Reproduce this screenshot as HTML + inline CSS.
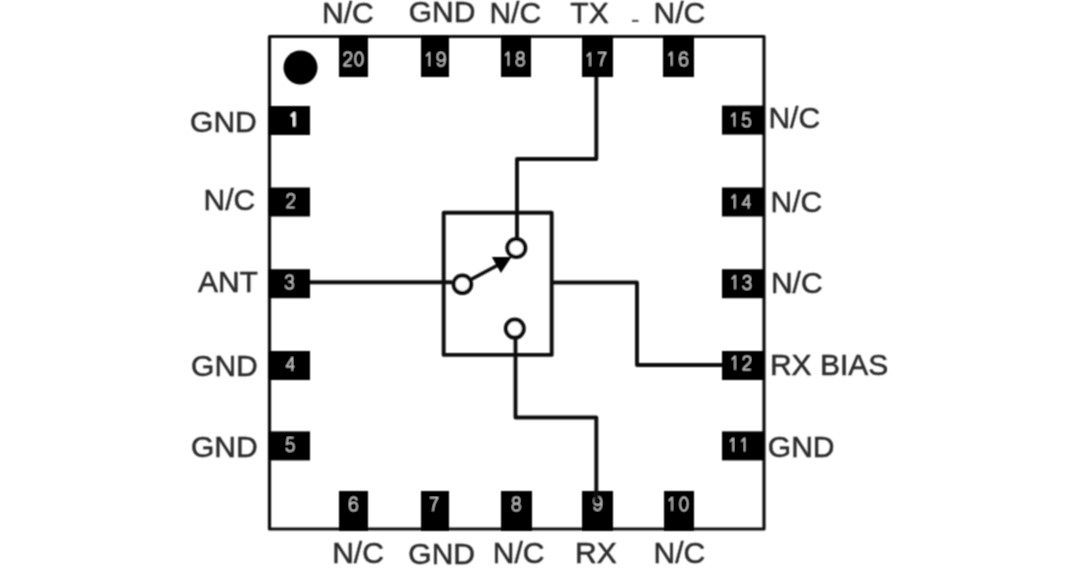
<!DOCTYPE html>
<html><head><meta charset="utf-8"><style>
html,body{margin:0;padding:0;background:#fff;width:1080px;height:568px;overflow:hidden}
svg{display:block}
.l{font-family:"Liberation Sans",sans-serif;font-size:30px;fill:#2a2a2a;stroke:#2a2a2a;stroke-width:0.5px}
.d{font-family:"Liberation Sans",sans-serif;font-size:22px;letter-spacing:0.6px;fill:#c4c4c4;text-anchor:middle}
</style></head><body>
<svg width="1080" height="568" viewBox="0 0 1080 568">
<defs><filter id="bl" x="-5%" y="-5%" width="110%" height="110%"><feConvolveMatrix order="3" kernelMatrix="1 2 1 2 4 2 1 2 1" divisor="16" edgeMode="none"/></filter></defs>
<g filter="url(#bl)" stroke-linejoin="round">
<rect x="269.5" y="36.5" width="494.5" height="492.5" fill="none" stroke="#111" stroke-width="3.2"/>
<circle cx="300.5" cy="67.5" r="17" fill="#000"/>
<rect x="339" y="36" width="29" height="41" fill="#000"/>
<rect x="421" y="36" width="28" height="41" fill="#000"/>
<rect x="501" y="36" width="30" height="41" fill="#000"/>
<rect x="582" y="36" width="31" height="41" fill="#000"/>
<rect x="663" y="36" width="31" height="41" fill="#000"/>
<rect x="339" y="491" width="29" height="40" fill="#000"/>
<rect x="421" y="491" width="28" height="40" fill="#000"/>
<rect x="501" y="491" width="31" height="40" fill="#000"/>
<rect x="582" y="491" width="31" height="40" fill="#000"/>
<rect x="664" y="491" width="30" height="40" fill="#000"/>
<rect x="269" y="106" width="41" height="29" fill="#000"/>
<rect x="269" y="187.5" width="41" height="29" fill="#000"/>
<rect x="269" y="269.2" width="41" height="29" fill="#000"/>
<rect x="269" y="351" width="41" height="29" fill="#000"/>
<rect x="269" y="431.4" width="41" height="29" fill="#000"/>
<rect x="722" y="105.6" width="42" height="29" fill="#000"/>
<rect x="722" y="187.5" width="42" height="29" fill="#000"/>
<rect x="722" y="269.2" width="42" height="29" fill="#000"/>
<rect x="722" y="351" width="42" height="29" fill="#000"/>
<rect x="722" y="431.4" width="42" height="29" fill="#000"/>
<g transform="translate(343.88,52.19)" fill="none" stroke="#c4c4c4" stroke-width="1.5" stroke-linecap="butt"><g transform="translate(0,0) scale(0.92,0.945)"><path d="M0.3,3.9 C0.5,1.3 2.2,0 4.2,0 C6.5,0 8.1,1.6 8.1,3.9 C8.1,6 6.8,7.4 4.6,9.2 C2.3,11 0.6,12.5 0.2,14.3 L8.3,14.3" vector-effect="non-scaling-stroke"/></g><g transform="translate(11.3,0) scale(0.92,0.945)"><ellipse cx="4.15" cy="7.15" rx="4.15" ry="7.15" vector-effect="non-scaling-stroke"/></g></g>
<g transform="translate(426.13,52.59)" fill="none" stroke="#c4c4c4" stroke-width="1.5" stroke-linecap="butt"><g transform="translate(0,0) scale(0.92,0.945)"><path d="M0.3,3.6 L3.6,0.2 L3.6,14.3" vector-effect="non-scaling-stroke"/></g><g transform="translate(11.3,0) scale(0.92,0.945)"><path transform="rotate(180 4.15 7.15)" d="M8,3.3 C7.6,1.2 6.2,0 4.4,0 C1.6,0 0.1,2.8 0.1,7.6 C0.1,12 1.7,14.3 4.3,14.3 C6.7,14.3 8.3,12.4 8.3,9.8 C8.3,7.3 6.7,5.5 4.4,5.5 C2.2,5.5 0.6,7 0.2,8.9" vector-effect="non-scaling-stroke"/></g></g>
<g transform="translate(505.18,52.19)" fill="none" stroke="#c4c4c4" stroke-width="1.5" stroke-linecap="butt"><g transform="translate(0,0) scale(0.92,0.945)"><path d="M0.3,3.6 L3.6,0.2 L3.6,14.3" vector-effect="non-scaling-stroke"/></g><g transform="translate(11.3,0) scale(0.92,0.945)"><ellipse cx="4.15" cy="3.45" rx="3.55" ry="3.45" vector-effect="non-scaling-stroke"/><ellipse cx="4.15" cy="10.45" rx="4.15" ry="3.85" vector-effect="non-scaling-stroke"/></g></g>
<g transform="translate(586.78,52.74)" fill="none" stroke="#c4c4c4" stroke-width="1.5" stroke-linecap="butt"><g transform="translate(0,0) scale(0.92,0.945)"><path d="M0.3,3.6 L3.6,0.2 L3.6,14.3" vector-effect="non-scaling-stroke"/></g><g transform="translate(11.3,0) scale(0.92,0.945)"><path d="M0,0 L8.3,0 C5.6,3.6 3.6,8.5 3.1,14.3" vector-effect="non-scaling-stroke"/></g></g>
<g transform="translate(668.38,52.19)" fill="none" stroke="#c4c4c4" stroke-width="1.5" stroke-linecap="butt"><g transform="translate(0,0) scale(0.92,0.945)"><path d="M0.3,3.6 L3.6,0.2 L3.6,14.3" vector-effect="non-scaling-stroke"/></g><g transform="translate(11.3,0) scale(0.92,0.945)"><path d="M8,3.3 C7.6,1.2 6.2,0 4.4,0 C1.6,0 0.1,2.8 0.1,7.6 C0.1,12 1.7,14.3 4.3,14.3 C6.7,14.3 8.3,12.4 8.3,9.8 C8.3,7.3 6.7,5.5 4.4,5.5 C2.2,5.5 0.6,7 0.2,8.9" vector-effect="non-scaling-stroke"/></g></g>
<g transform="translate(290.96,112.89)" fill="none" stroke="#f2f2f2" stroke-width="2.6" stroke-linecap="butt"><g transform="translate(0,0) scale(0.92,0.945)"><path d="M0.3,3.6 L3.6,0.2 L3.6,14.3" vector-effect="non-scaling-stroke"/></g></g>
<g transform="translate(286.88,194.04)" fill="none" stroke="#c4c4c4" stroke-width="1.5" stroke-linecap="butt"><g transform="translate(0,0) scale(0.92,0.945)"><path d="M0.3,3.9 C0.5,1.3 2.2,0 4.2,0 C6.5,0 8.1,1.6 8.1,3.9 C8.1,6 6.8,7.4 4.6,9.2 C2.3,11 0.6,12.5 0.2,14.3 L8.3,14.3" vector-effect="non-scaling-stroke"/></g></g>
<g transform="translate(285.48,275.24)" fill="none" stroke="#c4c4c4" stroke-width="1.5" stroke-linecap="butt"><g transform="translate(0,0) scale(0.92,0.945)"><path d="M0.4,3.5 C0.8,1.2 2.3,0 4.2,0 C6.4,0 7.9,1.5 7.9,3.6 C7.9,5.6 6.3,6.9 4,6.9 L3.2,6.9 M4,6.9 C6.6,6.9 8.3,8.4 8.3,10.6 C8.3,12.8 6.5,14.3 4.2,14.3 C2,14.3 0.4,13 0,10.8" vector-effect="non-scaling-stroke"/></g></g>
<g transform="translate(286.48,357.24)" fill="none" stroke="#c4c4c4" stroke-width="1.5" stroke-linecap="butt"><g transform="translate(0,0) scale(0.92,0.945)"><path d="M6.3,14.3 L6.3,0.2 L0,10 L8.5,10" vector-effect="non-scaling-stroke"/></g></g>
<g transform="translate(286.28,437.64)" fill="none" stroke="#c4c4c4" stroke-width="1.5" stroke-linecap="butt"><g transform="translate(0,0) scale(0.92,0.945)"><path d="M7.8,0 L1.5,0 L0.6,7 C1.5,6.1 2.7,5.6 4.1,5.6 C6.6,5.6 8.3,7.4 8.3,9.9 C8.3,12.5 6.5,14.3 4.1,14.3 C1.9,14.3 0.4,13 0.1,11" vector-effect="non-scaling-stroke"/></g></g>
<g transform="translate(731.23,113.04)" fill="none" stroke="#c4c4c4" stroke-width="1.5" stroke-linecap="butt"><g transform="translate(0,0) scale(0.92,0.945)"><path d="M0.3,3.6 L3.6,0.2 L3.6,14.3" vector-effect="non-scaling-stroke"/></g><g transform="translate(11.3,0) scale(0.92,0.945)"><path d="M7.8,0 L1.5,0 L0.6,7 C1.5,6.1 2.7,5.6 4.1,5.6 C6.6,5.6 8.3,7.4 8.3,9.9 C8.3,12.5 6.5,14.3 4.1,14.3 C1.9,14.3 0.4,13 0.1,11" vector-effect="non-scaling-stroke"/></g></g>
<g transform="translate(731.48,194.94)" fill="none" stroke="#c4c4c4" stroke-width="1.5" stroke-linecap="butt"><g transform="translate(0,0) scale(0.92,0.945)"><path d="M0.3,3.6 L3.6,0.2 L3.6,14.3" vector-effect="non-scaling-stroke"/></g><g transform="translate(11.3,0) scale(0.92,0.945)"><path d="M6.3,14.3 L6.3,0.2 L0,10 L8.5,10" vector-effect="non-scaling-stroke"/></g></g>
<g transform="translate(731.73,275.64)" fill="none" stroke="#c4c4c4" stroke-width="1.5" stroke-linecap="butt"><g transform="translate(0,0) scale(0.92,0.945)"><path d="M0.3,3.6 L3.6,0.2 L3.6,14.3" vector-effect="non-scaling-stroke"/></g><g transform="translate(11.3,0) scale(0.92,0.945)"><path d="M0.4,3.5 C0.8,1.2 2.3,0 4.2,0 C6.4,0 7.9,1.5 7.9,3.6 C7.9,5.6 6.3,6.9 4,6.9 L3.2,6.9 M4,6.9 C6.6,6.9 8.3,8.4 8.3,10.6 C8.3,12.8 6.5,14.3 4.2,14.3 C2,14.3 0.4,13 0,10.8" vector-effect="non-scaling-stroke"/></g></g>
<g transform="translate(731.73,356.19)" fill="none" stroke="#c4c4c4" stroke-width="1.5" stroke-linecap="butt"><g transform="translate(0,0) scale(0.92,0.945)"><path d="M0.3,3.6 L3.6,0.2 L3.6,14.3" vector-effect="non-scaling-stroke"/></g><g transform="translate(11.3,0) scale(0.92,0.945)"><path d="M0.3,3.9 C0.5,1.3 2.2,0 4.2,0 C6.5,0 8.1,1.6 8.1,3.9 C8.1,6 6.8,7.4 4.6,9.2 C2.3,11 0.6,12.5 0.2,14.3 L8.3,14.3" vector-effect="non-scaling-stroke"/></g></g>
<g transform="translate(729.96,438.04)" fill="none" stroke="#c4c4c4" stroke-width="1.5" stroke-linecap="butt"><g transform="translate(0,0) scale(0.92,0.945)"><path d="M0.3,3.6 L3.6,0.2 L3.6,14.3" vector-effect="non-scaling-stroke"/></g><g transform="translate(11.3,0) scale(0.92,0.945)"><path d="M0.3,3.6 L3.6,0.2 L3.6,14.3" vector-effect="non-scaling-stroke"/></g></g>
<g transform="translate(349.53,497.29)" fill="none" stroke="#c4c4c4" stroke-width="1.5" stroke-linecap="butt"><g transform="translate(0,0) scale(0.92,0.945)"><path d="M8,3.3 C7.6,1.2 6.2,0 4.4,0 C1.6,0 0.1,2.8 0.1,7.6 C0.1,12 1.7,14.3 4.3,14.3 C6.7,14.3 8.3,12.4 8.3,9.8 C8.3,7.3 6.7,5.5 4.4,5.5 C2.2,5.5 0.6,7 0.2,8.9" vector-effect="non-scaling-stroke"/></g></g>
<g transform="translate(430.08,497.74)" fill="none" stroke="#c4c4c4" stroke-width="1.5" stroke-linecap="butt"><g transform="translate(0,0) scale(0.92,0.945)"><path d="M0,0 L8.3,0 C5.6,3.6 3.6,8.5 3.1,14.3" vector-effect="non-scaling-stroke"/></g></g>
<g transform="translate(512.48,497.24)" fill="none" stroke="#c4c4c4" stroke-width="1.5" stroke-linecap="butt"><g transform="translate(0,0) scale(0.92,0.945)"><ellipse cx="4.15" cy="3.45" rx="3.55" ry="3.45" vector-effect="non-scaling-stroke"/><ellipse cx="4.15" cy="10.45" rx="4.15" ry="3.85" vector-effect="non-scaling-stroke"/></g></g>
<g transform="translate(593.98,496.74)" fill="none" stroke="#c4c4c4" stroke-width="1.5" stroke-linecap="butt"><g transform="translate(0,0) scale(0.92,0.945)"><path transform="rotate(180 4.15 7.15)" d="M8,3.3 C7.6,1.2 6.2,0 4.4,0 C1.6,0 0.1,2.8 0.1,7.6 C0.1,12 1.7,14.3 4.3,14.3 C6.7,14.3 8.3,12.4 8.3,9.8 C8.3,7.3 6.7,5.5 4.4,5.5 C2.2,5.5 0.6,7 0.2,8.9" vector-effect="non-scaling-stroke"/></g></g>
<g transform="translate(668.78,497.24)" fill="none" stroke="#c4c4c4" stroke-width="1.5" stroke-linecap="butt"><g transform="translate(0,0) scale(0.92,0.945)"><path d="M0.3,3.6 L3.6,0.2 L3.6,14.3" vector-effect="non-scaling-stroke"/></g><g transform="translate(11.3,0) scale(0.92,0.945)"><ellipse cx="4.15" cy="7.15" rx="4.15" ry="7.15" vector-effect="non-scaling-stroke"/></g></g>
<polyline points="596.3,77 596.3,159 517,159 517,238" fill="none" stroke="#111" stroke-width="3.9"/>
<polyline points="515.5,339 515.5,417.5 596.3,417.5 596.3,503" fill="none" stroke="#111" stroke-width="3.9"/>
<polyline points="552,282.5 637,282.5 637,365 722,365" fill="none" stroke="#111" stroke-width="3.9"/>
<line x1="310" y1="282.2" x2="452" y2="282.2" stroke="#111" stroke-width="3.9"/>
<rect x="443.7" y="212.7" width="108" height="142.2" fill="none" stroke="#111" stroke-width="3.9"/>
<circle cx="516.3" cy="248" r="9" fill="#fff" stroke="#111" stroke-width="4"/>
<circle cx="462.4" cy="284.3" r="8.8" fill="#fff" stroke="#111" stroke-width="4"/>
<circle cx="514.8" cy="328.6" r="9" fill="#fff" stroke="#111" stroke-width="4"/>
<line x1="470" y1="280" x2="500" y2="264" stroke="#111" stroke-width="3.6"/>
<polygon points="511.5,257 491.8,257 500.9,273" fill="#000"/>
<text x="322.00" y="23.35" class="l">N/C</text>
<text x="408.73" y="22.35" class="l">GND</text>
<text x="489.45" y="23.35" class="l">N/C</text>
<text x="570.35" y="22.60" class="l">TX</text>
<text x="653.55" y="23.35" class="l">N/C</text>
<text x="190.12" y="131.85" class="l">GND</text>
<text x="203.62" y="209.85" class="l">N/C</text>
<text x="197.90" y="292.02" class="l">ANT</text>
<text x="191.12" y="375.63" class="l">GND</text>
<text x="191.02" y="456.65" class="l">GND</text>
<text x="768.40" y="128.40" class="l">N/C</text>
<text x="770.50" y="211.62" class="l">N/C</text>
<text x="770.90" y="293.40" class="l">N/C</text>
<text x="769.95" y="374.80" class="l">RX BIAS</text>
<text x="767.85" y="456.65" class="l">GND</text>
<text x="332.15" y="563.30" class="l">N/C</text>
<text x="408.35" y="564.15" class="l">GND</text>
<text x="492.85" y="563.25" class="l">N/C</text>
<text x="575.00" y="563.40" class="l">RX</text>
<text x="653.55" y="563.25" class="l">N/C</text>
<rect x="632" y="19.8" width="6.5" height="2.2" fill="#555"/>
</g>
</svg>
</body></html>
